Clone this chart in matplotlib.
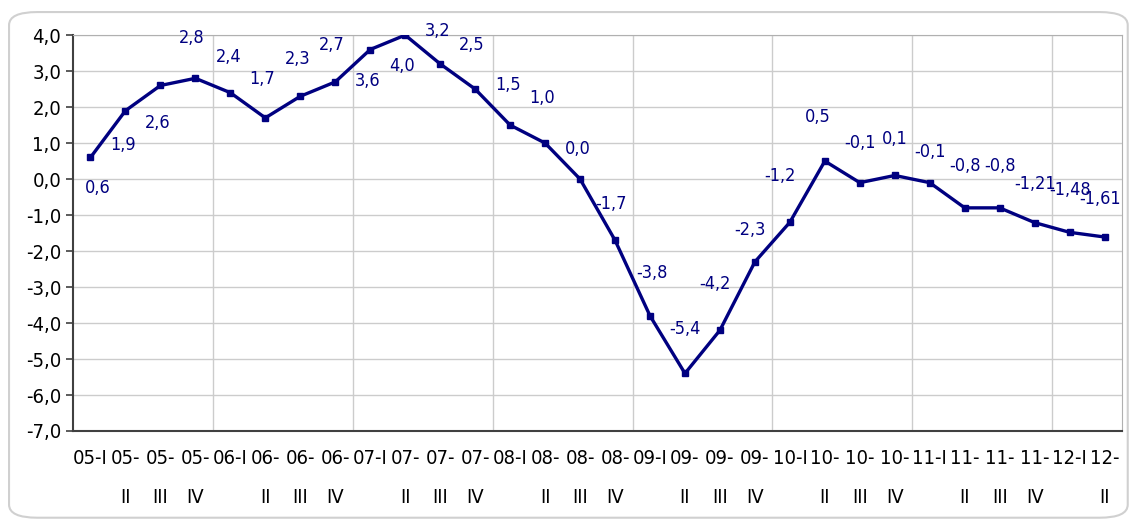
import matplotlib.pyplot as plt
import matplotlib.ticker as mticker
from matplotlib.patches import FancyBboxPatch

# --- Data ---
quarters = ['05-I', '05-\nII', '05-\nIII', '05-\nIV',
            '06-I', '06-\nII', '06-\nIII', '06-\nIV',
            '07-I', '07-\nII', '07-\nIII', '07-\nIV',
            '08-I', '08-\nII', '08-\nIII', '08-\nIV',
            '09-I', '09-\nII', '09-\nIII', '09-\nIV',
            '10-I', '10-\nII', '10-\nIII', '10-\nIV',
            '11-I', '11-\nII', '11-\nIII', '11-\nIV',
            '12-I', '12-\nII']
values = [0.6, 1.9, 2.6, 2.8, 2.4, 1.7, 2.3, 2.7, 3.6, 4.0, 3.2, 2.5,
          1.5, 1.0, 0.0, -1.7, -3.8, -5.4, -4.2, -2.3, -1.2, 0.5,
          -0.1, 0.1, -0.1, -0.8, -0.8, -1.21, -1.48, -1.61]
point_labels = ['0,6', '1,9', '2,6', '2,8', '2,4', '1,7', '2,3', '2,7', '3,6', '4,0',
                '3,2', '2,5', '1,5', '1,0', '0,0', '-1,7', '-3,8', '-5,4', '-4,2', '-2,3',
                '-1,2', '0,5', '-0,1', '0,1', '-0,1', '-0,8', '-0,8', '-1,21', '-1,48', '-1,61']

# label offsets in pixels (dx, dy), positive dy = up
label_offsets = [(7, -31), (-2, -34), (-3, -38), (-4, 40), (-2, 36), (-3, 39), (-3, 37), (-4, 37),
                 (-3, -31), (-3, -31), (-3, 33), (-3, 44), (-2, 40), (-3, 45), (-2, 30), (-4, 36),
                 (2, 43), (0, 44), (-5, 46), (-5, 32), (-10, 46), (-7, 44), (0, 40), (0, 36),
                 (0, 31), (0, 42), (0, 42), (0, 39), (0, 42), (-5, 38)]

navy = '#000080'
plt.rcParams['font.family'] = ['DejaVu Sans']
plt.rcParams['font.stretch'] = 'condensed'

fig = plt.figure(figsize=(11.3, 5.24), dpi=100)
fig.patches.append(FancyBboxPatch((0.008, 0.012), 0.99, 0.965,
                                  boxstyle='round,pad=0,rounding_size=0.025',
                                  transform=fig.transFigure, facecolor='white',
                                  edgecolor='#d0d0d0', linewidth=1.5, zorder=-1))
ax = fig.add_axes([0.0646, 0.1775, 0.9284, 0.7555])
ax.set_facecolor('none')

x = list(range(len(values)))
ax.plot(x, values, color=navy, linewidth=2.4, marker='s', markersize=5, zorder=3)

for xi, v, lab, (dx, dy) in zip(x, values, point_labels, label_offsets):
    ax.annotate(lab, (xi, v), xytext=(dx, dy), textcoords='offset pixels',
                ha='center', va='center', fontsize=13, color=navy)

ax.set_xlim(-0.5, len(values) - 0.5)
ax.set_ylim(-7, 4)
ax.yaxis.set_major_locator(mticker.MultipleLocator(1))
ax.yaxis.set_major_formatter(mticker.FuncFormatter(lambda v, p: f'{v:.1f}'.replace('.', ',')))

ax.set_xticks(x)
ax.set_xticklabels(quarters, va='top', linespacing=2.3)
ax.tick_params(axis='x', length=0, pad=13, labelsize=14.5)
ax.tick_params(axis='y', length=5, width=1.2, color='#404040', labelsize=14.5)

# vertical gridlines every 4 quarters
ax.set_xticks([i - 0.5 for i in range(4, len(values), 4)], minor=True)
ax.grid(axis='x', which='minor', color='#cccccc', linewidth=1)
ax.grid(axis='y', which='major', color='#cccccc', linewidth=1)
ax.tick_params(axis='x', which='minor', length=0)

for side in ['top', 'right']:
    ax.spines[side].set_color('#b0b0b0')
for side in ['left', 'bottom']:
    ax.spines[side].set_color('#404040')
    ax.spines[side].set_linewidth(1.5)

plt.savefig('out.png', dpi=100)
